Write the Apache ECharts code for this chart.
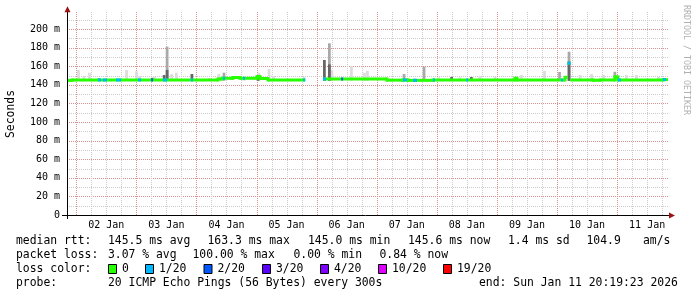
<!DOCTYPE html>
<html><head><meta charset="utf-8">
<script src="https://cdn.jsdelivr.net/npm/echarts@6/dist/echarts.min.js"></script>
<style>html,body{margin:0;padding:0;background:#fff}#c{width:697px;height:297px}</style>
</head><body><div id="c"></div>
<script>
// time axis: hours relative to 02 Jan 2026 00:00
const tStart = -3.68, tEnd = 236.32;
const yMax = 218;
const dayLabels = ['02 Jan','03 Jan','04 Jan','05 Jan','06 Jan','07 Jan','08 Jan','09 Jan','10 Jan','11 Jan'];
const dayLabelHours = [12,36,60,84,108,132,156,180,204,228];
const yTickValues = [0,20,40,60,80,100,120,140,160,180,200];
const yTickLabels = ['0','20 m','40 m','60 m','80 m','100 m','120 m','140 m','160 m','180 m','200 m'];

// median rtt (ms), stepped: value holds until next time
const medTimes  = [-3.68,-1.7,56.6,58.2,62.6,65.4,72.2,73.4,76.6,91.4,91.5,98.6,124.1,130.5,132.5,142.5,175.2,176.0,195.2,196.2,197.3,206.4,209.2,215.1,216.3,234.3,236.32];
const medValues = [144.7,145.2,146.2,147.0,147.8,147.0,148.8,146.8,145.2,145.2,null,146.2,145.0,145.2,144.8,145.2,147.0,145.2,148.0,163.2,145.2,144.9,145.2,148.5,145.2,145.6,145.6];

// packet loss periods (pings lost out of 20)
const lossStart = [8.7,10.7,15.9,24.7,29.9,34.7,45.8,58.6,66.6,90.6,98.6,105.8,130.5,134.5,142.5,155.7,193.6,196.2,216.3,234.3];
const lossEnd   = [9.9,12.3,17.9,25.9,30.7,36.3,46.6,59.4,67.4,91.4,99.8,106.6,132.1,136.1,143.3,156.5,194.4,197.4,217.5,235.5];
const lossPings = [1,1,1,1,2,1,1,1,1,1,1,2,1,1,1,1,1,1,1,1];

// smoke (ping spread): time, top of spread (ms), density (1 light .. 3 dark)
const smokeTimes   = [0.9,3.1,5.3,9.1,20.1,24.1,25.3,30.3,31.3,35.1,36.3,36.3,38.1,40.0,46.2,53.0,57.0,59.0,67.0,72.6,73.0,77.0,78.8,91.0,99.1,101.1,101.1,102.1,109.9,115.1,116.3,130.9,135.3,138.9,144.7,149.9,153.3,157.8,161.2,167.2,177.8,187.0,193.0,196.8,196.8,201.2,205.8,210.6,215.1,219.7,223.7,232.5];
const smokeTop     = [156,149.5,153,147.3,156,154.5,149.5,147.5,148.4,150.5,181,156,151.6,153,151.6,147.3,151.6,153,148,148,153,157,149.5,148.4,166.7,184.6,162,156,160,153,155,151.6,147,159.5,148,148.4,148,148.4,149.5,148.4,150.5,155,153.8,175.6,165,150.5,151.6,150.5,154,150.5,150.5,148.4];
const smokeDensity = [1,1,1,2,1,1,1,3,1,3,2,3,1,1,3,1,1,2,1,3,1,1,1,1,3,2,3,1,1,1,1,2,1,2,1,3,1,3,1,1,1,1,2,2,3,1,1,1,2,1,1,1];
const smokeBottom = 144.3;

const statsRow1 = [['median rtt:',16],['145.5 ms avg',108],['163.3 ms max',207.5],['145.0 ms min',308],['145.6 ms now',408],['1.4 ms sd',508],['104.9',586.5],['am/s',643]];
const statsRow2 = [['packet loss:',16],['3.07 % avg',108],['100.00 % max',192.5],['0.00 % min',293.5],['0.84 % now',379.5]];
const lossLegendLabels = ['0','1/20','2/20','3/20','4/20','10/20','19/20'];
const lossLegendThresholds = [0,1,2,3,4,10,19];
const lossColors = ['#26ff00','#00b8ff','#0059ff','#5e00ff','#7e00ff','#dd00ff','#ff0000'];
const probeText = '20 ICMP Echo Pings (56 Bytes) every 300s';
const endText = 'end: Sun Jan 11 20:19:23 2026';

const MONO = '"DejaVu Sans Mono"';
const MAJ = '#dc9090', MIN = '#cccccc';
const smokeColors = {1:'#dcdcdc',2:'#a9a9a9',3:'#666666'};

function lossColor(n){ let c = lossColors[0]; lossLegendThresholds.forEach((t,i)=>{ if(n>=t) c = lossColors[i]; }); return c; }
function medianAt(t){ let v = medValues[0]; for(let i=0;i<medTimes.length;i++){ if(medTimes[i] <= t + 1e-6 && medValues[i]!=null) v = medValues[i]; } return v; }
const px = v => Math.round(v) + 0.5;

const chart = echarts.init(document.getElementById('c'), null, {renderer:'canvas'});

function gridItem(params, api){
  const ch = [];
  const top = api.coord([tStart, yMax])[1], bot = api.coord([tStart, 0])[1];
  const left = api.coord([tStart, 0])[0], right = api.coord([tEnd, 0])[0];
  for (let v = 10; v <= 210; v += 10) {
    const y = px(api.coord([tStart, v])[1]);
    ch.push({type:'line', shape:{x1:left,y1:y,x2:right,y2:y}, style:{stroke: v%20===0?MAJ:MIN, lineWidth:1, lineDash:[1,1]}});
  }
  for (let h = 0; h <= tEnd; h += 6) {
    const x = px(api.coord([h, 0])[0]);
    ch.push({type:'line', shape:{x1:x,y1:Math.round(top),x2:x,y2:bot}, style:{stroke: h%24===0?MAJ:MIN, lineWidth:1, lineDash:[1,1]}});
  }
  return {type:'group', children: ch};
}

function axesItem(params, api){
  const ch = [];
  const top = api.coord([tStart, yMax])[1], bot = api.coord([tStart, 0])[1];
  const left = api.coord([tStart, 0])[0], right = api.coord([tEnd, 0])[0];
  const xl = px(left), yb = px(bot);
  ch.push({type:'line', shape:{x1:left-5,y1:yb,x2:right+1,y2:yb}, style:{stroke:'#000',lineWidth:1}});
  ch.push({type:'line', shape:{x1:xl,y1:bot+4,x2:xl,y2:top-1}, style:{stroke:'#000',lineWidth:1}});
  ch.push({type:'polygon', shape:{points:[[xl,top-6],[xl-3,top],[xl+3,top]]}, style:{fill:'#a01010'}});
  ch.push({type:'polygon', shape:{points:[[right+7,yb],[right+1,yb-3],[right+1,yb+3]]}, style:{fill:'#a01010'}});
  yTickValues.forEach((v,i)=>{
    const y = api.coord([tStart, v])[1];
    ch.push({type:'text', x:left-7, y:y, style:{text:yTickLabels[i], font:'10px '+MONO, fill:'#000', align:'right', verticalAlign:'middle'}});
  });
  dayLabelHours.forEach((h,i)=>{
    const x = api.coord([h, 0])[0];
    ch.push({type:'text', x:x, y:bot+10, style:{text:dayLabels[i], font:'10px '+MONO, fill:'#000', align:'center', verticalAlign:'middle'}});
  });
  return {type:'group', children: ch};
}

// median: one item per step segment [tFrom, tTo, value, prevValue]
const medData = [];
for (let i = 0; i < medTimes.length - 1; i++) {
  if (medValues[i] == null) continue;
  const prev = (i > 0 && medValues[i-1] != null) ? medValues[i-1] : medValues[i];
  medData.push([medTimes[i], medTimes[i+1], medValues[i], prev]);
}
function medItem(params, api){
  const t0 = api.value(0), t1 = api.value(1), v = api.value(2), pv = api.value(3);
  const a = api.coord([t0, v]), b = api.coord([t1, v]);
  const ch = [{type:'rect', shape:{x:a[0], y:a[1]-1.5, width:b[0]-a[0], height:3}, style:{fill:'#26ff00'}}];
  if (Math.abs(v - pv) > 0.05 && Math.abs(v - pv) < 5) {
    const p = api.coord([t0, pv]);
    const y0 = Math.min(p[1], a[1]) - 1.5, y1 = Math.max(p[1], a[1]) + 1.5;
    ch.push({type:'rect', shape:{x:a[0]-1.5, y:y0, width:3, height:y1-y0}, style:{fill:'#26ff00'}});
  }
  return {type:'group', children: ch};
}

const smokeData = smokeTimes.map((t,i)=>[t, smokeTop[i], smokeDensity[i]]).sort((a,b)=>a[2]-b[2]);
const lossData = lossStart.map((s,i)=>[s, lossEnd[i], lossPings[i], medianAt(s)]);

const graphics = [];
const rowFont = '11.4px ' + MONO;
function txt(s, x, y){ graphics.push({type:'text', x:x, y:y, style:{text:s, font:rowFont, fill:'#000', verticalAlign:'middle'}}); }
statsRow1.forEach(p=>txt(p[0], p[1], 241));
statsRow2.forEach(p=>txt(p[0], p[1], 255));
txt('loss color:', 16, 269);
const sqX = [108,145,203.5,262,320,378,443];
lossLegendLabels.forEach((l,i)=>{
  graphics.push({type:'rect', shape:{x:sqX[i]+0.5, y:264.5, width:8, height:9}, style:{fill:lossColors[i], stroke:'#000', lineWidth:1}});
  txt(l, sqX[i]+14, 269);
});
txt('probe:', 16, 283);
txt(probeText, 108, 283);
txt(endText, 479, 283);
graphics.push({type:'text', x:11, y:114, rotation:Math.PI/2, style:{text:'Seconds', font:'11.4px '+MONO, fill:'#000', align:'center', verticalAlign:'middle'}});
graphics.push({type:'text', x:686, y:60, rotation:-Math.PI/2, style:{text:'RRDTOOL / TOBI OETIKER', font:'8.3px '+MONO, fill:'#b0b0b0', align:'center', verticalAlign:'middle'}});

chart.setOption({
  animation:false,
  backgroundColor:'#fff',
  grid:{left:67, right:29, top:12.26, bottom:82, containLabel:false},
  xAxis:{type:'value', min:tStart, max:tEnd, show:false},
  yAxis:{type:'value', min:0, max:yMax, show:false},
  graphic: graphics,
  series:[
    {type:'custom', silent:true, z:1, clip:false, data:[[0,0]], renderItem:gridItem},
    {type:'custom', silent:true, z:2, data:smokeData, renderItem:(p,api)=>{
      const t=api.value(0), top=api.value(1), d=api.value(2);
      const a=api.coord([t-0.55, top]), b=api.coord([t+0.55, smokeBottom]);
      return {type:'rect', shape:{x:a[0], y:a[1], width:b[0]-a[0], height:b[1]-a[1]}, style:{fill:smokeColors[d]}};
    }},
    {type:'custom', silent:true, z:3, data:medData, renderItem:medItem},
    {type:'custom', silent:true, z:4, data:lossData, renderItem:(p,api)=>{
      const a=api.coord([api.value(0), api.value(3)]), b=api.coord([api.value(1), api.value(3)]);
      return {type:'rect', shape:{x:a[0], y:a[1]-1.5, width:b[0]-a[0], height:3}, style:{fill:lossColor(api.value(2))}};
    }},
    {type:'custom', silent:true, z:5, clip:false, data:[[0,0]], renderItem:axesItem}
  ]
});
</script></body></html>
